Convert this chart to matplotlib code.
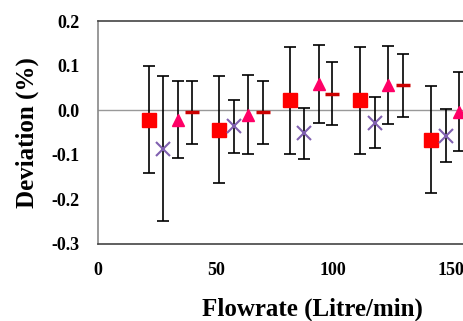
import matplotlib
matplotlib.use("Agg")
import matplotlib.pyplot as plt

# Data
sq_x = [21.5, 51.4, 81.5, 111.4, 141.4]
sq_y = [-0.021, -0.044, 0.022, 0.022, -0.066]
sq_e = [0.12, 0.12, 0.12, 0.12, 0.12]

x_x = [27.6, 57.7, 87.6, 117.8, 147.7]
x_y = [-0.086, -0.036, -0.052, -0.028, -0.057]
x_e = [0.162, 0.059, 0.058, 0.057, 0.060]

tri_x = [33.8, 63.9, 93.7, 123.3, 153.4]
tri_y = [-0.021, -0.010, 0.059, 0.057, -0.003]
tri_e = [0.087, 0.089, 0.087, 0.088, 0.089]

dash_x = [39.9, 69.9, 99.5, 129.4]
dash_y = [-0.005, -0.005, 0.037, 0.056]
dash_e = [0.071, 0.071, 0.071, 0.071]

x_ticks = [0, 50, 100, 150]
y_ticks = [-0.3, -0.2, -0.1, 0.0, 0.1, 0.2]
y_ticklabels = ["-0.3", "-0.2", "-0.1", "0.0", "0.1", "0.2"]

plt.rcParams['font.family'] = ['Liberation Serif', 'DejaVu Serif']
plt.rcParams['font.weight'] = 'bold'

fig = plt.figure(figsize=(4.64, 3.21), dpi=100)
ax = fig.add_axes([98/464, 1-244/321, 1-98/464, (244-21)/321])

ax.axhline(0, color='#999999', lw=1.0, zorder=1)

eb_kw = dict(fmt='none', ecolor='black', elinewidth=1.2, capsize=4.3, capthick=1.2, zorder=2)
ax.errorbar(sq_x, sq_y, yerr=sq_e, **eb_kw)
ax.errorbar(x_x, x_y, yerr=x_e, **eb_kw)
ax.errorbar(tri_x, tri_y, yerr=tri_e, **eb_kw)
ax.errorbar(dash_x, dash_y, yerr=dash_e, **eb_kw)

ax.plot(sq_x, sq_y, 's', color='#FF0000', ms=10, mec='#FF0000', zorder=3)
ax.plot(x_x, x_y, 'x', color='#8060B0', ms=10, mew=1.5, zorder=3)
ax.plot(tri_x, tri_y, '^', color='#FF0066', ms=9, mec='#FF0066', zorder=3)
ax.plot(dash_x, dash_y, '_', color='#CC0000', ms=10, mew=2.5, zorder=3)

ax.set_xlim(0, 155.5)
ax.set_ylim(-0.3, 0.2)
ax.set_xticks(x_ticks)
ax.set_yticks(y_ticks)
ax.set_yticklabels(y_ticklabels)
ax.tick_params(axis='both', length=0, labelsize=13)
ax.tick_params(axis='y', pad=13)
ax.tick_params(axis='x', pad=13)

ax.spines['right'].set_visible(False)
ax.spines['top'].set_color('#444444')
ax.spines['bottom'].set_color('#444444')
ax.spines['left'].set_color('#888888')
for s in ['top', 'bottom', 'left']:
    ax.spines[s].set_linewidth(1.2)

ax.set_xlabel('Flowrate (Litre/min)', fontsize=18, fontweight='bold')
ax.xaxis.set_label_coords((312-98)/366, -(309-244)/223, transform=ax.transAxes)
ax.xaxis.label.set_va('center')
ax.set_ylabel('Deviation (%)', fontsize=18, fontweight='bold')
ax.yaxis.set_label_coords(-(98-27)/366, 0.5, transform=ax.transAxes)
ax.yaxis.label.set_va('center')

fig.savefig('out.png', dpi=100)
